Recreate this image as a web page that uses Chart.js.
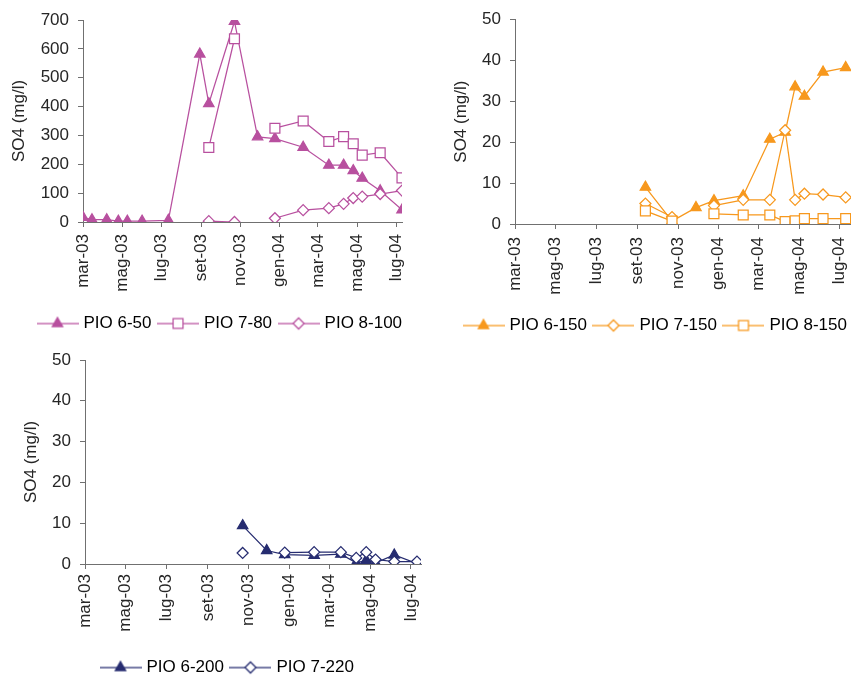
<!DOCTYPE html>
<html>
<head>
<meta charset="utf-8">
<title>SO4 piezometri</title>
<script src="https://cdn.jsdelivr.net/npm/chart.js@4.4.1/dist/chart.umd.min.js"></script>
<style>
    html, body { margin: 0; padding: 0; background: #fff; }
    #page { position: relative; width: 851px; height: 675px; overflow: hidden; }
    #page canvas { position: absolute; }
</style>
</head>
<body>
<div id="page">
    <canvas id="chart1" width="425" height="342" style="left:0;top:0"></canvas>
    <canvas id="chart2" width="448" height="344" style="left:425px;top:0"></canvas>
    <canvas id="chart3" width="452" height="346" style="left:0;top:340px"></canvas>
</div>
<script>
// Sampling campaigns (same dates for every piezometer)
const sampleDates = [
    '2003-03-01', '2003-03-15', '2003-04-07', '2003-04-25', '2003-05-09',
    '2003-06-01', '2003-07-12', '2003-08-30', '2003-09-13', '2003-10-23',
    '2003-11-28', '2003-12-25', '2004-02-07', '2004-03-18', '2004-04-10',
    '2004-04-25', '2004-05-09', '2004-06-06', '2004-07-10'
];

// Axis ticks every two months
const tickDates = ['2003-03-01', '2003-05-01', '2003-07-01', '2003-09-01', '2003-11-01',
    '2004-01-01', '2004-03-01', '2004-05-01', '2004-07-01'];
const tickLabels = ['mar-03', 'mag-03', 'lug-03', 'set-03', 'nov-03',
    'gen-04', 'mar-04', 'mag-04', 'lug-04'];

// SO4 (mg/l) - shallow piezometers
const pio6_50 = [16, 8, 8, 3, 3, 3, 6, 582, 410, 695, 295, 289, 259, 197, 197, 178, 152, 108, 42];
const pio7_80 = [null, null, null, null, null, null, null, null, 258, 635, null, 325, 350, 279, 296, 271, 232, 240, 153];
const pio8_100 = [null, null, null, null, null, null, null, null, 3, 0, null, 13, 41, 48, 63, 83, 88, 97, 109];

// SO4 (mg/l) - 150 m piezometers
const pio6_150 = [null, null, null, null, null, null, null, null, 9.0, 0.7, 4.0, 5.7, 6.9, 20.7, 22.4, 33.5, 31.2, 37.1, 38.2];
const pio7_150 = [null, null, null, null, null, null, null, null, 5.0, 1.7, null, 4.5, 5.9, 5.9, 22.9, 5.9, 7.4, 7.2, 6.5];
const pio8_150 = [null, null, null, null, null, null, null, null, 3.2, 0.7, null, 2.5, 2.2, 2.2, 0.6, 0.8, 1.3, 1.3, 1.3];

// SO4 (mg/l) - deep piezometers
const pio6_200 = [null, null, null, null, null, null, null, null, null, 9.4, 3.3, 2.3, 2.1, 2.4, 0.3, 0.9, 0.3, 2.2, 0.1];
const pio7_220 = [null, null, null, null, null, null, null, null, null, 2.7, null, 2.8, 2.9, 2.9, 1.5, 2.9, 1.1, 0.6, 0.6];

const FONT = "'Liberation Sans', Arial, sans-serif";
const FONT_SIZE = 17;
const TEXT_COLOR = '#262626';
const AXIS_COLOR = '#707070';

// marker radius per point style
const MARKER_RADIUS = { triangle: 6, rect: 7, rectRot: 5.5 };

Chart.defaults.font.family = FONT;
Chart.defaults.font.size = FONT_SIZE;
Chart.defaults.color = TEXT_COLOR;

// Moves the legend row so it starts at a given x (in canvas pixels)
const legendOffset = {
    id: 'legendOffset',
    afterLayout(chart, args, opts) {
        const legend = chart.legend;
        if (!legend || opts.left === undefined) return;
        const dx = opts.left - legend.left;
        legend.left += dx;
        legend.right += dx;
    }
};

// days since 1 March 2003
function dayOf(s) {
    const [y, m, d] = s.split('-').map(Number);
    return (Date.UTC(y, m - 1, d) - Date.UTC(2003, 2, 1)) / 86400000;
}

function toPoints(values) {
    return sampleDates.map((d, i) => ({ x: dayOf(d), y: values[i] }));
}

// Legend symbol: short line with the marker in the middle
function legendIcon(color, style, filled) {
    const c = document.createElement('canvas');
    c.width = 42;
    c.height = 16;
    const ctx = c.getContext('2d');
    ctx.strokeStyle = color;
    ctx.lineWidth = 1.25;
    ctx.beginPath();
    ctx.moveTo(0, 8);
    ctx.lineTo(42, 8);
    ctx.stroke();
    ctx.fillStyle = filled ? color : '#fff';
    Chart.helpers.drawPoint(ctx, {
        pointStyle: style,
        radius: MARKER_RADIUS[style],
        rotation: 0,
        borderWidth: 1.25
    }, 21, 8);
    return c;
}

function makeChart(id, cfg) {
    const n = cfg.series.length;
    const icons = cfg.series.map(s => legendIcon(cfg.color, s.style, s.filled));

    return new Chart(document.getElementById(id), {
        type: 'line',
        data: {
            datasets: cfg.series.map((s, i) => ({
                label: s.label,
                data: toPoints(s.values),
                borderColor: cfg.color,
                backgroundColor: s.filled ? cfg.color : '#fff',
                borderWidth: 1.25,
                pointStyle: s.style,
                pointRadius: MARKER_RADIUS[s.style],
                pointBorderWidth: 1.25,
                pointBorderColor: cfg.color,
                pointBackgroundColor: s.filled ? cfg.color : '#fff',
                tension: 0,
                spanGaps: false,
                fill: false,
                // later series are painted over earlier ones
                order: n - i
            }))
        },
        plugins: [legendOffset],
        options: {
            responsive: false,
            animation: false,
            layout: {
                padding: { left: 0, right: cfg.padRight, top: cfg.padTop, bottom: 0 }
            },
            plugins: {
                tooltip: { enabled: false },
                legendOffset: { left: cfg.legendLeft },
                legend: {
                    position: 'bottom',
                    align: 'start',
                    labels: {
                        usePointStyle: true,
                        pointStyleWidth: 35,
                        padding: 9,
                        font: { size: FONT_SIZE },
                        generateLabels: chart => chart.data.datasets.map((ds, i) => ({
                            text: ds.label,
                            datasetIndex: i,
                            pointStyle: icons[i],
                            fillStyle: 'transparent',
                            strokeStyle: 'transparent',
                            lineWidth: 0,
                            hidden: false
                        }))
                    }
                }
            },
            scales: {
                x: {
                    type: 'linear',
                    min: 0,
                    max: dayOf(cfg.xEnd),
                    afterBuildTicks: axis => {
                        axis.ticks = tickDates.map(d => ({ value: dayOf(d) }));
                    },
                    afterFit: scale => { scale.height = cfg.xHeight; },
                    ticks: {
                        autoSkip: false,
                        minRotation: 90,
                        maxRotation: 90,
                        padding: cfg.xPad,
                        callback: (value, index) => tickLabels[index]
                    },
                    grid: { drawOnChartArea: false, tickLength: 5, color: AXIS_COLOR },
                    border: { color: AXIS_COLOR, width: 1 }
                },
                y: {
                    min: 0,
                    max: cfg.yMax,
                    afterFit: scale => { scale.width = cfg.yWidth; },
                    ticks: { stepSize: cfg.yStep, padding: 9 },
                    grid: { drawOnChartArea: false, tickLength: 5, color: AXIS_COLOR },
                    border: { color: AXIS_COLOR, width: 1 },
                    title: {
                        display: true,
                        text: 'SO4 (mg/l)',
                        padding: { top: cfg.titlePad, bottom: 0 }
                    }
                }
            }
        }
    });
}

makeChart('chart1', {
    color: '#B8509F',
    series: [
        { label: 'PIO 6-50', values: pio6_50, style: 'triangle', filled: true },
        { label: 'PIO 7-80', values: pio7_80, style: 'rect', filled: false },
        { label: 'PIO 8-100', values: pio8_100, style: 'rectRot', filled: false }
    ],
    yMax: 700, yStep: 100,
    xEnd: '2004-07-10',
    yWidth: 83, padRight: 23, padTop: 20, xHeight: 84, xPad: 7, titlePad: 9,
    legendLeft: 31
});

makeChart('chart2', {
    color: '#F7981D',
    series: [
        { label: 'PIO 6-150', values: pio6_150, style: 'triangle', filled: true },
        { label: 'PIO 7-150', values: pio7_150, style: 'rectRot', filled: false },
        { label: 'PIO 8-150', values: pio8_150, style: 'rect', filled: false }
    ],
    yMax: 50, yStep: 10,
    xEnd: '2004-07-18',
    yWidth: 90, padRight: 22, padTop: 19, xHeight: 84, xPad: 8, titlePad: 26,
    legendLeft: 32
});

makeChart('chart3', {
    color: '#262C70',
    series: [
        { label: 'PIO 6-200', values: pio6_200, style: 'triangle', filled: true },
        { label: 'PIO 7-220', values: pio7_220, style: 'rectRot', filled: false }
    ],
    yMax: 50, yStep: 10,
    xEnd: '2004-07-16',
    yWidth: 85, padRight: 31, padTop: 20, xHeight: 86, xPad: 5, titlePad: 21,
    legendLeft: 94
});
</script>
</body>
</html>
